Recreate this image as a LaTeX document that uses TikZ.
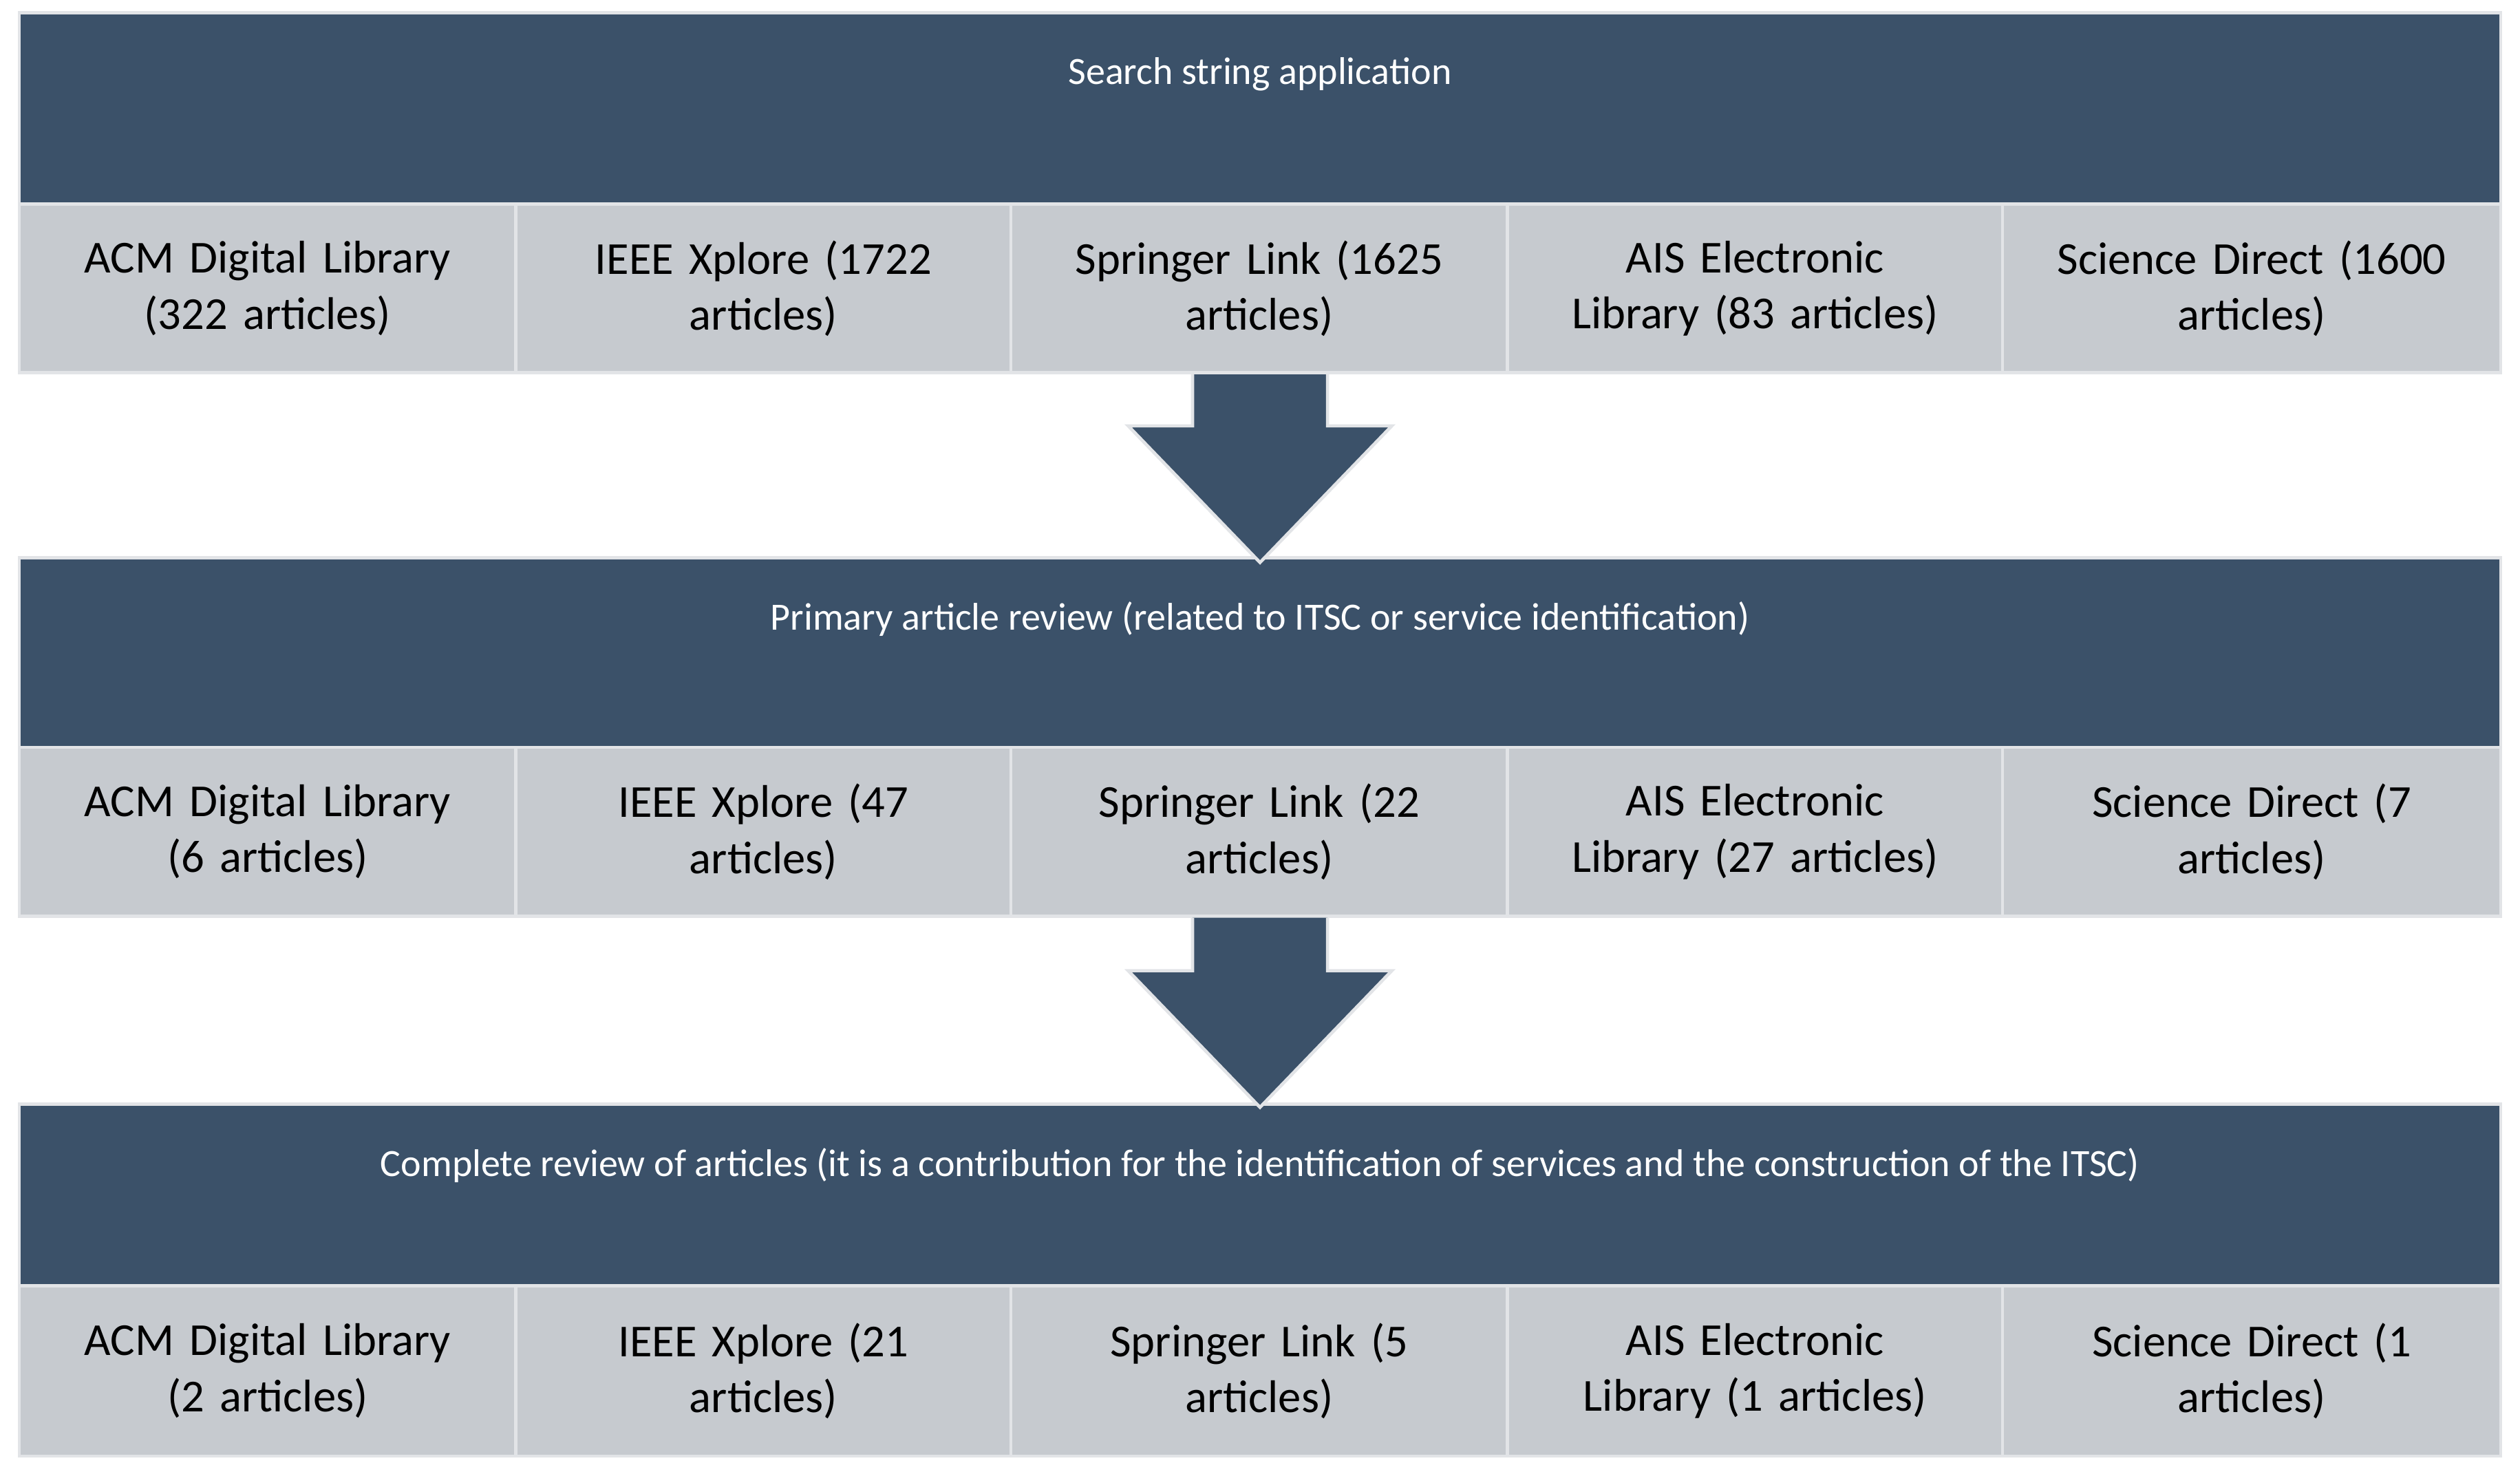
\documentclass[tikz,border=0pt]{standalone}
\usepackage{fontspec}
\setmainfont{Carlito}
\definecolor{dk}{HTML}{3B5169}
\definecolor{lg}{HTML}{C6CACF}
\definecolor{bd}{HTML}{E2E4E7}
\begin{document}
\begin{tikzpicture}[x=1pt,y=-1pt,
  hdr/.style={fill=dk,draw=bd,line width=2pt},
  cell/.style={fill=lg,draw=bd,line width=2pt},
  ht/.style={text=white,font=\fontsize{24}{29}\selectfont},
  ct/.style={text=black,font=\fontsize{28.5}{35}\selectfont,align=center,text width=290pt},
  arr/.style={fill=dk,draw=bd,line width=2pt}]
\useasboundingbox (0,0) rectangle (1568,917);
\fill[white] (0,0) rectangle (1568,917);
\def\cols{12,321,629,938,1246,1556}
% block macro
\newcommand{\blk}[7]{%
  \draw[hdr] (12,#1) rectangle (1556,#2);
  \node[ht] (h#7) at (784,{#1+38}) {#3};
  \foreach \a/\b/\t [count=\i] in {#4} {
    \draw[cell] (\a,#2) rectangle (\b,#5);
    \node[ct] (c#7\i) at ({(\a+\b)/2},{(#2+#5)/2}) {\t};
  }}
\blk{8}{127}{Search string application}{12/321/{ACM Digital Library\\(322 articles)},321/629/{IEEE Xplore (1722\\articles)},629/938/{Springer Link (1625\\articles)},938/1246/{AIS Electronic\\Library (83 articles)},1246/1556/{Science Direct (1600\\articles)}}{232}{}{a}
\blk{347}{465}{Primary article review (related to ITSC or service identification)}{12/321/{ACM Digital Library\\(6 articles)},321/629/{IEEE Xplore (47\\articles)},629/938/{Springer Link (22\\articles)},938/1246/{AIS Electronic\\Library (27 articles)},1246/1556/{Science Direct (7\\articles)}}{570}{}{b}
\blk{687}{800}{Complete review of articles (it is a contribution for the identification of services and the construction of the ITSC)}{12/321/{ACM Digital Library\\(2 articles)},321/629/{IEEE Xplore (21\\articles)},629/938/{Springer Link (5\\articles)},938/1246/{AIS Electronic\\Library (1 articles)},1246/1556/{Science Direct (1\\articles)}}{906}{}{c}
\draw[arr] (742,233) -- (742,265) -- (702,265) -- (784,350) -- (866,265) -- (826,265) -- (826,233);
\draw[arr] (742,571) -- (742,604) -- (702,604) -- (784,689) -- (866,604) -- (826,604) -- (826,571);
\end{tikzpicture}
\end{document}
